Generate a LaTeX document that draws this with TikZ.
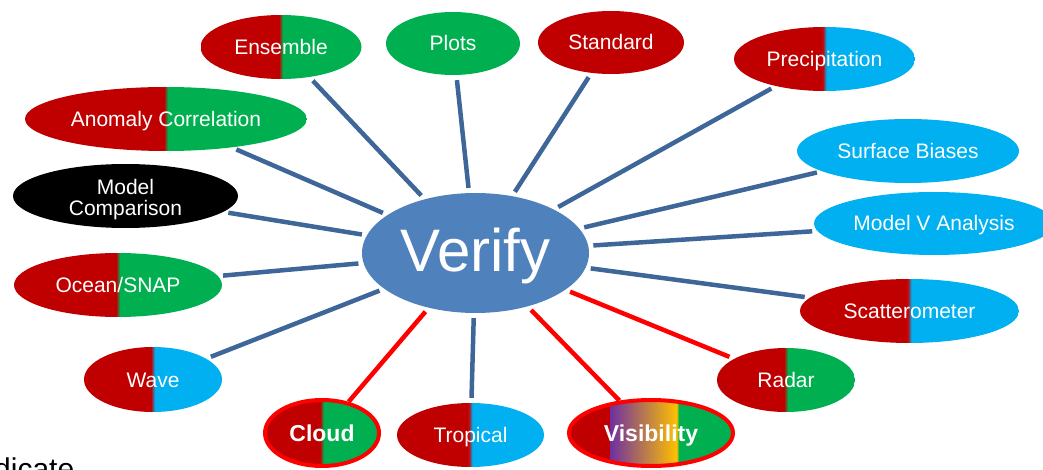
\documentclass[tikz,border=0pt]{standalone}
\usepackage{fontspec}
\setmainfont{Liberation Sans}
\usetikzlibrary{shapes.geometric}
\definecolor{cred}{RGB}{192,0,0}
\definecolor{cgreen}{RGB}{0,176,80}
\definecolor{ccyan}{RGB}{0,176,240}
\definecolor{cpurple}{RGB}{112,48,160}
\definecolor{cyellow}{RGB}{255,192,0}
\definecolor{cverify}{RGB}{79,129,189}
\definecolor{cline}{RGB}{62,102,152}
\definecolor{chot}{RGB}{255,0,0}
\tikzset{
  bubble/.style={ellipse, inner sep=0pt, text=white,
    font=\fontsize{21}{21}\selectfont, text height=15pt, text depth=0pt},
  boldbubble/.style={bubble, font=\fontsize{23}{23}\selectfont\bfseries,
    text height=16.5pt, draw=chot, line width=4pt},
  mono/.style={fill=#1},
  twotone/.style 2 args={path picture={
    \fill[#1] (path picture bounding box.south west) rectangle (path picture bounding box.north);
    \fill[#2] (path picture bounding box.south) rectangle (path picture bounding box.north east);
    \shade[left color=#1, right color=#2]
      ([xshift=-2pt]path picture bounding box.south) rectangle ([xshift=2pt]path picture bounding box.north);
  }},
  rainbow/.style={path picture={
    \fill[cred] (path picture bounding box.south west) rectangle ([xshift=-40pt]path picture bounding box.north);
    \shade[left color=cpurple, right color=cyellow]
      ([xshift=-40.5pt]path picture bounding box.south) rectangle ([xshift=26pt]path picture bounding box.north);
    \shade[left color=cyellow, right color=cgreen]
      ([xshift=25.5pt]path picture bounding box.south) rectangle ([xshift=28pt]path picture bounding box.north);
    \fill[cgreen] ([xshift=27.5pt]path picture bounding box.south) rectangle (path picture bounding box.north east);
  }},
  spoke/.style={line width=4.5pt, color=cline, shorten <=5pt, shorten >=5pt},
  hotspoke/.style={line width=4.5pt, color=chot, shorten <=5pt, shorten >=5pt},
}
\begin{document}
\begin{tikzpicture}[x=1pt, y=-1pt]
  \useasboundingbox (0,0) rectangle (1043,470);
  \clip (0,0) rectangle (1043,470);

  % hub
  \node[ellipse, inner sep=0pt, fill=cverify, text=white, minimum width=227pt, minimum height=120pt,
        font=\fontsize{60}{60}\selectfont, text height=43pt, text depth=6pt]
        (verify) at (475.5,253) {Verify};

  % outer topics
  \node[bubble, twotone={cred}{cgreen}, minimum width=161pt, minimum height=64pt] (ens) at (281,47) {Ensemble};
  \node[bubble, mono=cgreen, minimum width=134pt, minimum height=63pt] (plots) at (453,43.5) {Plots};
  \node[bubble, mono=cred, minimum width=146pt, minimum height=63pt] (std) at (611,42.5) {Standard};
  \node[bubble, twotone={cred}{ccyan}, minimum width=181pt, minimum height=64pt] (prec) at (824.5,59) {Precipitation};
  \node[bubble, mono=ccyan, minimum width=222pt, minimum height=64pt] (surf) at (908,151) {Surface Biases};
  \node[bubble, mono=ccyan, minimum width=240pt, minimum height=63pt] (modv) at (934,223.5) {Model V Analysis};
  \node[bubble, twotone={cred}{ccyan}, minimum width=219pt, minimum height=64pt] (scat) at (909.5,311) {Scatterometer};
  \node[bubble, twotone={cred}{cgreen}, minimum width=138pt, minimum height=64pt] (radar) at (786,380) {Radar};
  \node[boldbubble, rainbow, minimum width=164pt, minimum height=66pt] (vis) at (651,433) {Visibility};
  \node[bubble, twotone={cred}{ccyan}, minimum width=147pt, minimum height=64pt] (trop) at (470.5,435) {Tropical};
  \node[boldbubble, twotone={cred}{cgreen}, minimum width=114pt, minimum height=66pt] (cloud) at (322,433) {Cloud};
  \node[bubble, twotone={cred}{ccyan}, minimum width=138pt, minimum height=65pt] (wave) at (153,379.5) {Wave};
  \node[bubble, twotone={cred}{cgreen}, minimum width=208pt, minimum height=64pt] (ocean) at (118,285) {Ocean/SNAP};
  \node[bubble, mono=black, minimum width=225pt, minimum height=64pt, align=center,
        text height=39pt, text depth=0pt] (mcomp) at (125.5,196) {Model\\Comparison};
  \node[bubble, twotone={cred}{cgreen}, minimum width=282pt, minimum height=64pt] (anom) at (166,119) {Anomaly Correlation};

  % spokes
  \foreach \t in {ens,plots,std,prec,surf,modv,scat,trop,wave,ocean,mcomp,anom}
    \draw[spoke] (verify) -- (\t);
  \draw[hotspoke] (verify) -- (radar);
  \draw[hotspoke, shorten >=0pt] (verify) -- (vis);
  \draw[hotspoke, shorten >=0pt] (verify) -- (cloud);

  % text running off the lower edge
  \node[anchor=base west, inner sep=0pt, font=\fontsize{30}{30}\selectfont] (tail) at (-6,479) {dicate};
\end{tikzpicture}
\end{document}
